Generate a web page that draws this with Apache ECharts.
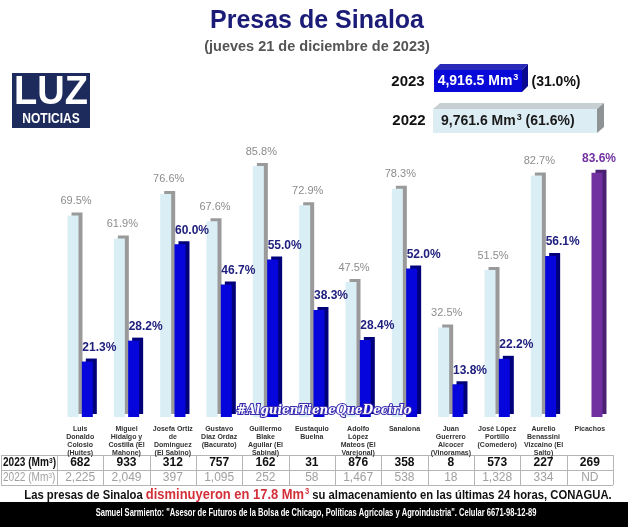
<!DOCTYPE html>
<html>
<head>
<meta charset="utf-8">
<script src="https://cdn.jsdelivr.net/npm/echarts@6/dist/echarts.min.js"></script>
<style>
  html, body { margin: 0; padding: 0; background: #fff; }
  #chart { width: 628px; height: 527px; }
</style>
</head>
<body>
<div id="chart"></div>
<script>
// presas (categorias)
const presas = [
  'Luis\nDonaldo\nColosio\n(Huites)',
  'Miguel\nHidalgo y\nCostilla (El\nMahone)',
  'Josefa Ortiz\nde\nDominguez\n(El Sabino)',
  'Gustavo\nDiaz Ordaz\n(Bacurato)',
  'Guillermo\nBlake\nAguilar (El\nSabinal)',
  'Eustaquio\nBuelna',
  'Adolfo\nLópez\nMateos (El\nVarejonal)',
  'Sanalona',
  'Juan\nGuerrero\nAlcocer\n(Vinoramas)',
  'José López\nPortillo\n(Comedero)',
  'Aurelio\nBenassini\nVizcaino (El\nSalto)',
  'Picachos'
]
// porcentaje de llenado
const pct2022 = [69.5, 61.9, 76.6, 67.6, 85.8, 72.9, 47.5, 78.3, 32.5, 51.5, 82.7, null]
const pct2023 = [21.3, 28.2, 60.0, 46.7, 55.0, 38.3, 28.4, 52.0, 13.8, 22.2, 56.1, 83.6]
// volumen (Mm3) para la tabla
const vol2023 = ['682', '933', '312', '757', '162', '31', '876', '358', '8', '573', '227', '269']
const vol2022 = ['2,225', '2,049', '397', '1,095', '252', '58', '1,467', '538', '18', '1,328', '334', 'ND']

const chart = echarts.init(document.getElementById('chart'))
const FONT = 'Liberation Sans'

const blueData = pct2023.map((v, i) => {
  if (i === presas.length - 1) {
    return {
      value: v,
      itemStyle: { color: '#7030a0', shadowColor: '#4b1f72' },
      label: { color: '#7030a0', offset: [2, 0] }
    }
  }
  return v
})

let option = {
  animation: false,
  grid: { left: 57, right: 15, top: 123, bottom: 110 },
  xAxis: {
    type: 'category',
    data: presas,
    axisLine: { show: false },
    axisTick: { show: false },
    axisLabel: {
      interval: 0,
      fontSize: 7,
      fontWeight: 'bold',
      color: '#333',
      lineHeight: 8,
      margin: 8,
      fontFamily: FONT
    }
  },
  yAxis: {
    type: 'value',
    min: 3,
    max: 100,
    show: false,
    splitLine: { show: false }
  },
  series: [
    {
      name: '2022',
      type: 'bar',
      data: pct2022,
      barWidth: 11,
      barGap: '30%',
      itemStyle: {
        color: '#daeef5',
        shadowColor: '#9a9a9a',
        shadowOffsetX: 4,
        shadowOffsetY: -3,
        shadowBlur: 0
      },
      label: {
        show: true,
        position: 'top',
        distance: 9,
        offset: [3, 0],
        fontSize: 11,
        color: '#8c8c8c',
        fontFamily: FONT,
        formatter: p => p.value.toFixed(1) + '%'
      }
    },
    {
      name: '2023',
      type: 'bar',
      data: blueData,
      barWidth: 11,
      itemStyle: {
        color: '#0505dc',
        shadowColor: '#00007a',
        shadowOffsetX: 4,
        shadowOffsetY: -3,
        shadowBlur: 0
      },
      label: {
        show: true,
        position: 'top',
        distance: 8,
        offset: [12, 0],
        fontSize: 12,
        fontWeight: 'bold',
        color: '#20207e',
        fontFamily: FONT,
        formatter: p => p.value.toFixed(1) + '%'
      }
    }
  ]
}
chart.setOption(option)

// encabezado, logo, cuadros de totales, tabla y pie
const g = []
const W = 628
const txt = (x, y, text, size, fill, extra) => g.push(Object.assign({ type: 'text', x: x, y: y,
  style: Object.assign({ text: text, fontSize: size, fontWeight: 'bold', fill: fill, fontFamily: FONT,
    align: 'center', verticalAlign: 'middle' }, (extra && extra.style) || {}) }, (extra && extra.el) || {}))

txt(317, 21, 'Presas de Sinaloa', 25, '#1b1b78')
txt(317, 47, '(jueves 21 de diciembre de 2023)', 14.5, '#555')

// logo
g.push({ type: 'rect', shape: { x: 12, y: 73, width: 78, height: 55 }, style: { fill: '#1c2b5c' } })
txt(51, 93, 'LUZ', 40, '#fff', { el: { scaleX: 0.95 } })
txt(51, 119, 'NOTICIAS', 15, '#fff', { el: { scaleX: 0.8 } })

// cuadro 2023
txt(408, 82, '2023', 15, '#111')
g.push({ type: 'polygon', shape: { points: [[434, 70], [440, 64], [528, 64], [522, 70]] }, style: { fill: '#2a2ab8' } })
g.push({ type: 'polygon', shape: { points: [[522, 70], [528, 64], [528, 86], [522, 92]] }, style: { fill: '#0a0a90' } })
g.push({ type: 'rect', shape: { x: 434, y: 70, width: 88, height: 22 }, style: { fill: '#0808d8' } })
g.push({ type: 'text', x: 478, y: 81, style: {
  text: '{a|4,916.5 Mm}{s|3}', align: 'center', verticalAlign: 'middle',
  rich: { a: { fontSize: 14, fontWeight: 'bold', fill: '#fff', fontFamily: FONT },
          s: { fontSize: 9, fontWeight: 'bold', fill: '#fff', fontFamily: FONT, verticalAlign: 'top', padding: [0, 0, 6, 1] } } } })
txt(556, 82, '(31.0%)', 14, '#111')

// cuadro 2022
txt(409, 121, '2022', 15, '#111')
g.push({ type: 'polygon', shape: { points: [[433, 109], [440, 103], [604, 103], [597, 109]] }, style: { fill: '#c8cfd2' } })
g.push({ type: 'polygon', shape: { points: [[597, 109], [604, 103], [604, 127], [597, 133]] }, style: { fill: '#8e9496' } })
g.push({ type: 'rect', shape: { x: 433, y: 109, width: 164, height: 24 }, style: { fill: '#dcedf3' } })
g.push({ type: 'text', x: 441, y: 121, style: {
  text: '{a|9,761.6 Mm}{s|3}{a| (61.6%)}', verticalAlign: 'middle',
  rich: { a: { fontSize: 14, fontWeight: 'bold', fill: '#1a1a1a', fontFamily: FONT },
          s: { fontSize: 9, fontWeight: 'bold', fill: '#1a1a1a', fontFamily: FONT, verticalAlign: 'top', padding: [0, 0, 6, 1] } } } })

// marca de agua
g.push({ type: 'text', x: 324, y: 411, z: 100, style: { text: '#AlguienTieneQueDecirlo', fontSize: 12, fontWeight: 'bold',
  fontStyle: 'italic', fill: '#ffffff', stroke: '#3a2bb0', lineWidth: 2, fontFamily: 'DejaVu Serif',
  align: 'center', verticalAlign: 'middle' } })

// tabla
const tTop = 455, rowH = 15, colL = 57
const colW = (W - 15 - colL) / presas.length
const lineStyle = { stroke: '#b5b5b5', lineWidth: 1 }
for (let r = 0; r <= 2; r++) {
  g.push({ type: 'line', shape: { x1: 1, y1: tTop + r * rowH + 0.5, x2: W - 15, y2: tTop + r * rowH + 0.5 }, style: lineStyle })
}
g.push({ type: 'line', shape: { x1: 1.5, y1: tTop, x2: 1.5, y2: tTop + 2 * rowH }, style: lineStyle })
for (let c = 0; c <= presas.length; c++) {
  const x = Math.round(colL + c * colW) + 0.5
  g.push({ type: 'line', shape: { x1: x, y1: tTop, x2: x, y2: tTop + 2 * rowH }, style: lineStyle })
}
const rowLabel = (y, t, color, weight) => g.push({ type: 'text', x: 3, y: y, scaleX: 0.84, style: {
  text: '{a|' + t + ' (Mm}{s|3}{a|)}', verticalAlign: 'middle',
  rich: { a: { fontSize: 12, fontWeight: weight, fill: color, fontFamily: FONT },
          s: { fontSize: 8, fontWeight: weight, fill: color, fontFamily: FONT, verticalAlign: 'top', padding: [0, 0, 5, 0] } } } })
rowLabel(tTop + rowH / 2 + 0.5, '2023', '#111', 'bold')
rowLabel(tTop + rowH * 1.5 + 0.5, '2022', '#a0a0a0', 'normal')
presas.forEach((p, i) => {
  const cx = chart.convertToPixel({ xAxisIndex: 0 }, i)
  txt(cx, tTop + rowH / 2 + 0.5, vol2023[i], 12, '#111')
  txt(cx, tTop + rowH * 1.5 + 0.5, vol2022[i], 12, '#a0a0a0', { style: { fontWeight: 'normal' } })
})

// nota
g.push({ type: 'text', x: 318, y: 495, scaleX: 0.835, style: {
  text: '{b|Las presas de Sinaloa }{r|disminuyeron en 17.8 Mm}{rs|3}{b| su almacenamiento en las últimas 24 horas, CONAGUA.}',
  align: 'center', verticalAlign: 'middle',
  rich: {
    b: { fontSize: 13.5, fontWeight: 'bold', fill: '#111', fontFamily: FONT },
    r: { fontSize: 15.5, fontWeight: 'bold', fill: '#d3303a', fontFamily: FONT },
    rs: { fontSize: 9, fontWeight: 'bold', fill: '#d3303a', fontFamily: FONT, verticalAlign: 'top', padding: [0, 0, 7, 1] }
  } } })

// franja negra
g.push({ type: 'rect', shape: { x: 0, y: 502, width: W, height: 25 }, style: { fill: '#000' } })
txt(316, 513, 'Samuel Sarmiento: "Asesor de Futuros de la Bolsa de Chicago, Políticas Agrícolas y Agroindustria". Celular 6671-98-12-89',
  10.5, '#fff', { el: { scaleX: 0.72 } })

chart.setOption({ graphic: { elements: g } })
</script>
</body>
</html>
